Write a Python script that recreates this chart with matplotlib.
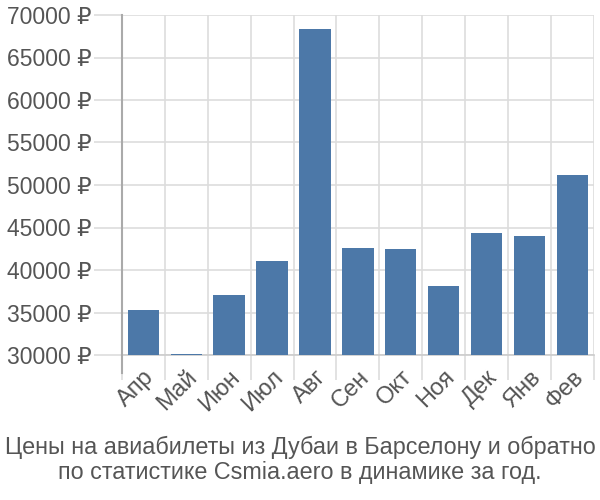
import numpy as np
import matplotlib.pyplot as plt

months = ['Апр', 'Май', 'Июн', 'Июл', 'Авг', 'Сен', 'Окт', 'Ноя', 'Дек', 'Янв', 'Фев']
prices = [35300, 30150, 37100, 41100, 68300, 42550, 42450, 38100, 44350, 44000, 51200]
yticks = [30000, 35000, 40000, 45000, 50000, 55000, 60000, 65000, 70000]

plt.rcParams['font.family'] = ['Liberation Sans', 'DejaVu Sans']

fig = plt.figure(figsize=(6, 5), dpi=100)
ax = fig.add_axes([0.203, 0.29, 0.787, 0.68])

x = np.arange(len(months))
ax.bar(x, np.array(prices) - 30000, bottom=30000, width=0.73, color='#4c78a8', zorder=3)

ax.set_xlim(-0.5, len(months) - 0.5)
ax.set_ylim(30000, 70000)

ax.set_yticks(yticks)
ax.set_yticklabels([f'{v} ₽' for v in yticks])
ax.set_xticks(x)
ax.set_xticklabels(months, rotation=45, ha='right', va='top', rotation_mode='anchor')

# category boundaries as minor ticks / vertical grid
ax.set_xticks(np.arange(len(months) + 1) - 0.5, minor=True)
ax.grid(True, which='minor', axis='x', color='#dddddd', lw=1.2, zorder=0)
ax.grid(True, which='major', axis='y', color='#dddddd', lw=1.2, zorder=0)
ax.tick_params(axis='x', which='major', length=0, pad=8, labelsize=17, labelcolor='#555555')
ax.tick_params(axis='x', which='minor', length=18, color='#dddddd', width=1.2)
ax.tick_params(axis='y', length=20, color='#dddddd', width=1.2, labelsize=16.5, labelcolor='#555555', pad=2)

for s in ['top', 'right']:
    ax.spines[s].set_visible(False)
ax.spines['bottom'].set_color('#cccccc')
ax.spines['bottom'].set_linewidth(1.2)
ax.spines['left'].set_visible(False)
ax.plot([0, 0], [-0.053, 1], transform=ax.transAxes, color='#aaaaaa', lw=1.5, clip_on=False, zorder=4)

fig.text(0.5, 0.08, 'Цены на авиабилеты из Дубаи в Барселону и обратно\nпо статистике Csmia.aero в динамике за год.',
         ha='center', va='center', fontsize=16.8, color='#555555', linespacing=1.15)

fig.savefig('out.png', dpi=100)
